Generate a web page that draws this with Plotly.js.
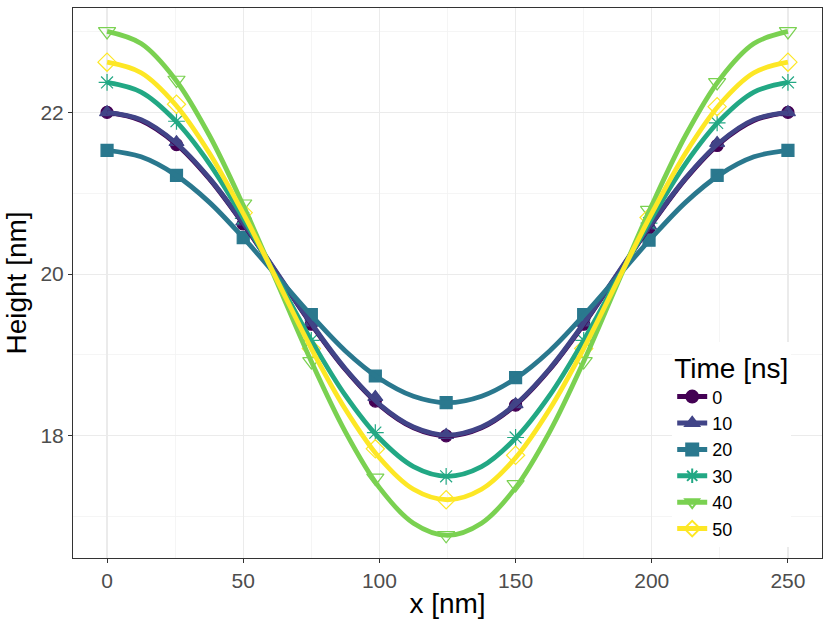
<!DOCTYPE html>
<html>
<head>
<meta charset="utf-8">
<script src="https://cdn.plot.ly/plotly-3.0.1.min.js"></script>
<style>
  body { margin: 0; background: #fff; }
  #plot { width: 830px; height: 623px; }
</style>
</head>
<body>
<div id="plot"></div>
<script>
// curve read along x [nm] every 12.5 nm
var xLine = [0, 12.5, 25, 37.5, 50, 62.5, 75, 87.5, 100, 112.5, 125,
             137.5, 150, 162.5, 175, 187.5, 200, 212.5, 225, 237.5, 250];
var l0  = [22.00, 21.90, 21.62, 21.18, 20.62, 20.00, 19.38, 18.82, 18.38, 18.10, 18.00,
           18.10, 18.38, 18.82, 19.38, 20.00, 20.62, 21.18, 21.62, 21.90, 22.00];
var l10 = [22.00, 21.91, 21.63, 21.19, 20.63, 20.01, 19.39, 18.83, 18.39, 18.11, 18.01,
           18.11, 18.39, 18.83, 19.39, 20.01, 20.63, 21.19, 21.63, 21.91, 22.00];
var l20 = [21.53, 21.45, 21.23, 20.89, 20.45, 19.97, 19.49, 19.05, 18.71, 18.49, 18.41,
           18.49, 18.71, 19.05, 19.49, 19.97, 20.45, 20.89, 21.23, 21.45, 21.53];
var l30 = [22.37, 22.25, 21.90, 21.37, 20.69, 19.94, 19.18, 18.50, 17.97, 17.62, 17.50,
           17.62, 17.97, 18.50, 19.18, 19.94, 20.69, 21.37, 21.90, 22.25, 22.37];
var l40 = [23.00, 22.85, 22.41, 21.72, 20.85, 19.89, 18.92, 18.05, 17.36, 16.92, 16.77,
           16.92, 17.36, 18.05, 18.92, 19.89, 20.85, 21.72, 22.41, 22.85, 23.00];
var l50 = [22.62, 22.49, 22.10, 21.50, 20.75, 19.92, 19.08, 18.33, 17.73, 17.34, 17.21,
           17.34, 17.73, 18.33, 19.08, 19.92, 20.75, 21.50, 22.10, 22.49, 22.62];

// marker samples [nm]
var xPts = [0, 25.5, 50, 75, 98.5, 124.5, 150, 175, 199, 224, 250];
var p0  = [22.00, 21.60, 20.62, 19.38, 18.43, 18.00, 18.38, 19.38, 20.57, 21.59, 22.00];
var p10 = [22.00, 21.63, 20.65, 19.40, 18.48, 18.01, 18.39, 19.40, 20.60, 21.62, 22.00];
var p20 = [21.53, 21.22, 20.45, 19.50, 18.74, 18.41, 18.72, 19.50, 20.42, 21.22, 21.53];
var p30 = [22.37, 21.89, 20.69, 19.18, 18.04, 17.50, 17.98, 19.18, 20.63, 21.87, 22.37];
var p40 = [23.00, 22.40, 20.87, 18.92, 17.48, 16.77, 17.40, 18.92, 20.79, 22.37, 23.00];
var p50 = [22.62, 22.10, 20.76, 19.08, 17.84, 17.21, 17.76, 19.08, 20.70, 22.07, 22.62];

var times = ['0', '10', '20', '30', '40', '50'];
var colors = ['#440154', '#414487', '#2A788E', '#22A884', '#7AD151', '#FDE725'];
var symbols = ['circle', 'triangle-up', 'square', 'asterisk-open', 'triangle-down-open', 'diamond-open'];
var sizes = [12, 13, 12, 14, 15, 14];
var lines = [l0, l10, l20, l30, l40, l50];
var pts = [p0, p10, p20, p30, p40, p50];

var data = [];
// points first
for (let i = 0; i < pts.length; i++) {
  data.push({
    x: xPts, y: pts[i], type: 'scatter', mode: 'markers', showlegend: false,
    marker: {symbol: symbols[i], size: sizes[i], color: colors[i],
             line: {color: colors[i], width: 1.2}}
  });
}
// then curves
for (let i = 0; i < lines.length; i++) {
  data.push({
    x: xLine, y: lines[i], type: 'scatter', mode: 'lines', showlegend: false,
    line: {color: colors[i], width: 4.8, shape: 'spline', smoothing: 1}
  });
}
// legend keys
for (let i = 0; i < times.length; i++) {
  data.push({
    x: [null], y: [null], name: times[i], type: 'scatter', mode: 'lines+markers',
    line: {color: colors[i], width: 4.8},
    marker: {symbol: symbols[i], size: sizes[i], color: colors[i],
             line: {color: colors[i], width: 1.2}}
  });
}

var fam = 'Liberation Sans, Arial, sans-serif';
var layout = {
  width: 830, height: 623,
  margin: {l: 73, r: 8, t: 8, b: 65},
  paper_bgcolor: '#ffffff',
  plot_bgcolor: '#ffffff',
  font: {family: fam, size: 21, color: '#4d4d4d'},
  showlegend: true,
  xaxis: {
    range: [-12.5, 262.5],
    tickvals: [0, 50, 100, 150, 200, 250],
    showgrid: true, gridcolor: '#ebebeb', gridwidth: 1.2,
    minor: {tickvals: [25, 75, 125, 175, 225], showgrid: true, gridcolor: '#f3f3f3', gridwidth: 0.8, ticks: ''},
    zeroline: false,
    showline: true, mirror: true, linecolor: '#333333', linewidth: 1,
    ticks: 'outside', ticklen: 4, tickcolor: '#333333',
    tickfont: {size: 21, color: '#4d4d4d'},
    title: {text: 'x [nm]', font: {size: 28, color: '#000000'}, standoff: 2}
  },
  yaxis: {
    range: [16.49, 23.29],
    tickvals: [18, 20, 22],
    showgrid: true, gridcolor: '#ebebeb', gridwidth: 1.2,
    minor: {tickvals: [17, 19, 21, 23], showgrid: true, gridcolor: '#f3f3f3', gridwidth: 0.8, ticks: ''},
    zeroline: false,
    showline: true, mirror: true, linecolor: '#333333', linewidth: 1,
    ticks: 'outside', ticklen: 4, tickcolor: '#333333',
    tickfont: {size: 21, color: '#4d4d4d'},
    title: {text: 'Height [nm]', font: {size: 28, color: '#000000'}, standoff: 5}
  },
  legend: {
    x: 0.8, xanchor: 'left', y: 0.02, yanchor: 'bottom',
    bgcolor: '#ffffff',
    font: {size: 18, color: '#000000'},
    title: {text: 'Time [ns]', font: {size: 28, color: '#000000'}},
    itemsizing: 'constant',
    tracegroupgap: 0
  }
};

Plotly.newPlot('plot', data, layout, {displayModeBar: false, staticPlot: true});
</script>
</body>
</html>
